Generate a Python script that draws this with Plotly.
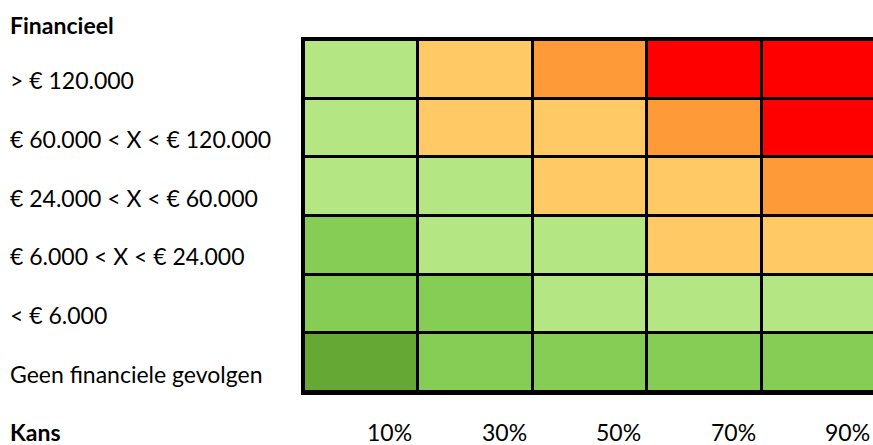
import plotly.graph_objects as go

# Data
kans_labels = ["10%", "30%", "50%", "70%", "90%"]
financieel_labels = [
    "> € 120.000",
    "€ 60.000 < X < € 120.000",
    "€ 24.000 < X < € 60.000",
    "€ 6.000 < X < € 24.000",
    "< € 6.000",
    "Geen financiele gevolgen",
]
# risk level per cell (rows top->bottom, cols 10%..90%)
risk = [
    [2, 3, 4, 5, 5],
    [2, 3, 3, 4, 5],
    [2, 2, 3, 3, 4],
    [1, 2, 2, 3, 3],
    [1, 1, 2, 2, 2],
    [0, 1, 1, 1, 1],
]
level_colors = ["#66A834", "#86CD55", "#B4E683", "#FFCA66", "#FF9A38", "#FF0000"]

n = len(level_colors)
colorscale = []
for i, c in enumerate(level_colors):
    colorscale.append([i / n, c])
    colorscale.append([(i + 1) / n, c])

rows = list(range(len(financieel_labels)))[::-1]  # top row has highest index
cols = list(range(len(kans_labels)))

x_range = [-0.5, 4.47]

fig = go.Figure(
    go.Heatmap(
        z=risk,
        x=cols,
        y=rows,
        zmin=-0.5,
        zmax=n - 0.5,
        colorscale=colorscale,
        showscale=False,
        xgap=3,
        ygap=3,
        hoverinfo="skip",
    )
)

font = dict(family="Lato, Carlito, Calibri, sans-serif", size=23, color="#000000")
left_x = -0.521

annotations = []
annotations.append(dict(text="<b>Financieel</b>", xref="paper", yref="paper",
                        x=left_x, y=1.0, yshift=15, xanchor="left", yanchor="middle",
                        showarrow=False, font=font))
for lab, r in zip(financieel_labels, rows):
    annotations.append(dict(text=lab, xref="paper", yref="y", x=left_x, y=r,
                            yshift=-11, xanchor="left", yanchor="middle",
                            showarrow=False, font=font))
annotations.append(dict(text="<b>Kans</b>", xref="paper", yref="paper",
                        x=left_x, y=0, yshift=-40, xanchor="left", yanchor="middle",
                        showarrow=False, font=font))
span = x_range[1] - x_range[0]
for lab, c in zip(kans_labels, cols):
    xp = (c + 0.5 - x_range[0]) / span
    annotations.append(dict(text=lab, xref="paper", yref="paper", x=xp, y=0,
                            xshift=-4, yshift=-40, xanchor="right", yanchor="middle",
                            showarrow=False, font=font))

fig.update_layout(
    width=873,
    height=445,
    margin=dict(l=304, r=0, t=40, b=53),
    paper_bgcolor="#FFFFFF",
    plot_bgcolor="#000000",
    annotations=annotations,
    xaxis=dict(range=x_range, showgrid=False, zeroline=False, showticklabels=False,
               ticks="", showline=True, mirror=True, linecolor="#000000", linewidth=3,
               fixedrange=True),
    yaxis=dict(range=[-0.5, 5.5], showgrid=False, zeroline=False, showticklabels=False,
               ticks="", showline=True, mirror=False, linecolor="#000000", linewidth=3,
               fixedrange=True),
)

fig.write_html("out.html")
